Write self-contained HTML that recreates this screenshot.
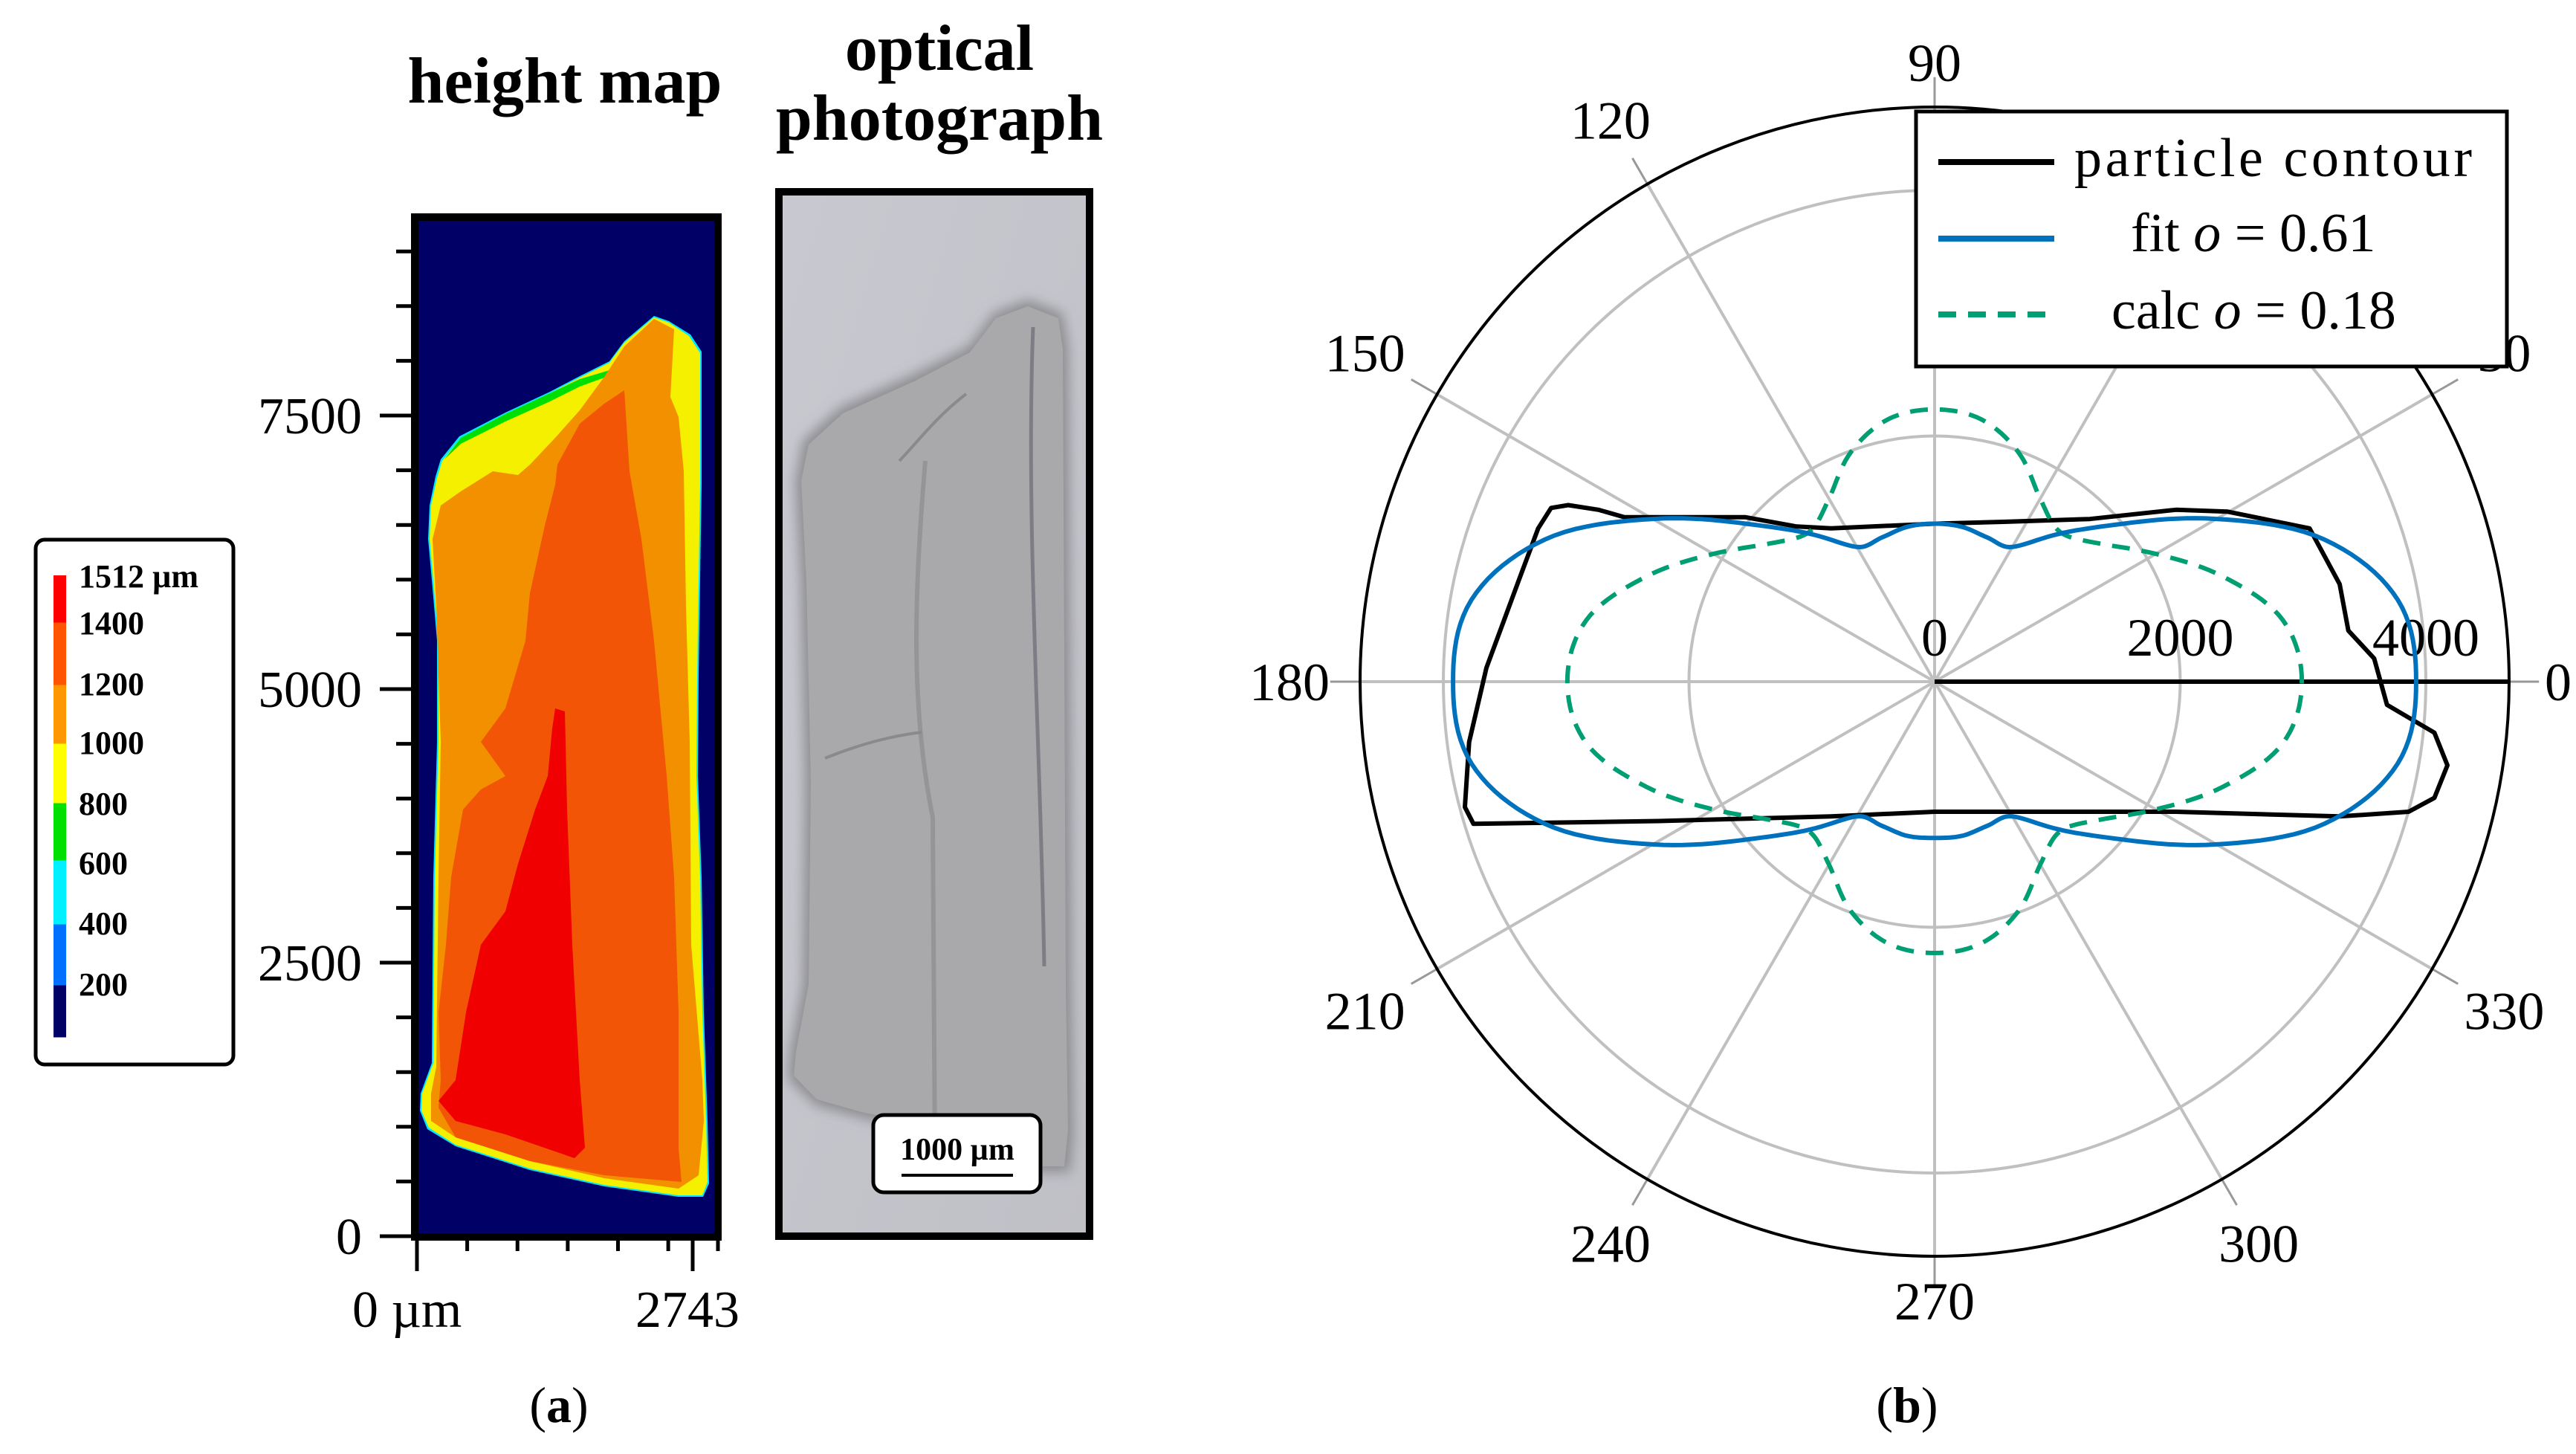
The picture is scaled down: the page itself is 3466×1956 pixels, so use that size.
<!DOCTYPE html>
<html><head><meta charset="utf-8">
<style>
html,body{margin:0;padding:0;background:#fff;}
svg{display:block;}
text{font-family:"Liberation Serif",serif;}
</style></head>
<body>
<svg id="fig" width="3466" height="1956" viewBox="0 0 3466 1956" xmlns="http://www.w3.org/2000/svg">
<rect x="0" y="0" width="3466" height="1956" fill="#fff"/>

<!-- ============ Panel (a) ============ -->
<g>
  <text x="760" y="138" font-size="88" font-weight="bold" text-anchor="middle">height map</text>
  <text x="1264" y="94" font-size="88" font-weight="bold" text-anchor="middle">optical</text>
  <text x="1264" y="188" font-size="88" font-weight="bold" text-anchor="middle">photograph</text>

  <g>
    <rect x="558" y="292" width="408" height="1372" fill="#000066"/>
    <polygon fill="#00e8ff" points="593,618 618,587 680,555 740,527 780,506 820,486 840,459 880,425 900,432 929,450 944,473 944,652 940,907 939,1044 944,1180 947,1362 952,1508 954,1592 946,1610 913,1610 813,1596 713,1574 613,1542 575,1519 565,1494 566,1471 581,1430 583,1180 588,998 588,862 581,780 576,725 578,680 586,641"/>
    <polygon fill="#f5f000" points="595,620 620,589 680,557 740,529 780,508 820,488 840,461 880,427 900,434 927,452 942,475 942,652 938,907 937,1044 942,1180 945,1362 950,1508 952,1590 945,1608 913,1608 813,1594 713,1572 613,1540 577,1517 567,1494 568,1471 583,1430 585,1180 590,998 590,862 583,780 578,725 580,680 588,643"/>
    <polygon fill="#00e000" points="598,618 620,597 680,567 740,540 780,520 813,508 820,498 780,510 740,529 680,557 620,589"/>
    <polygon fill="#f39000" points="593,680 620,661 663,634 697,639 713,625 747,589 780,552 813,507 840,466 880,429 907,443 902,534 913,561 920,634 923,816 928,998 930,1271 945,1453 947,1508 940,1581 913,1599 813,1585 713,1562 613,1530 580,1508 580,1471 587,1435 590,1180 593,998 587,816 582,725"/>
    <polygon fill="#f25505" points="750,625 780,570 813,543 840,525 847,634 863,725 880,862 897,1044 907,1180 913,1362 913,1544 917,1590 813,1581 713,1562 613,1530 590,1490 593,1453 590,1362 600,1271 607,1180 623,1089 647,1062 680,1044 647,998 680,953 707,862 713,798 733,707 747,652"/>
    <polygon fill="#f00000" points="747,953 760,957 763,1089 770,1271 780,1453 787,1544 773,1558 680,1526 613,1508 590,1481 613,1453 627,1362 647,1271 680,1226 697,1162 720,1089 737,1044 743,980"/>
    <rect x="558" y="292" width="408" height="1372" fill="none" stroke="#000" stroke-width="10"/>
  </g>
  <g id="hm-axes"></g>

  <g>
    <rect x="48" y="726" width="266" height="706" rx="12" fill="#fff" stroke="#000" stroke-width="5"/>
    <g id="cbar"></g>
  </g>

  <g>
    <defs>
      <linearGradient id="bg" x1="0" y1="0" x2="1" y2="1">
        <stop offset="0" stop-color="#c8c9d0"/><stop offset="1" stop-color="#bfc0c6"/>
      </linearGradient>
      <filter id="blur"><feGaussianBlur stdDeviation="8"/></filter>
    </defs>
    <rect x="1048" y="258" width="418" height="1405" fill="url(#bg)"/>
    <polygon filter="url(#blur)" fill="#8e8e92" points="1080,593 1130,548 1230,503 1303,466 1337,421 1383,403 1430,421 1438,467 1440,873 1442,1324 1445,1523 1440,1577 1397,1577 1263,1523 1163,1505 1097,1487 1060,1451 1063,1415 1080,1324 1083,1053 1077,782 1070,647"/>
    <polygon fill="#a9a9ab" points="1088,598 1134,556 1232,512 1305,474 1340,428 1383,412 1424,428 1430,470 1432,873 1434,1324 1437,1520 1432,1569 1397,1569 1263,1515 1163,1497 1099,1479 1068,1447 1071,1415 1088,1324 1091,1053 1085,782 1078,647"/>
    <path d="M1245,620 C1230,800 1225,950 1255,1100 L1258,1560" stroke="#959597" stroke-width="6" fill="none"/>
    <path d="M1390,440 C1380,700 1400,1000 1405,1300" stroke="#7d7d85" stroke-width="5" fill="none"/>
    <path d="M1110,1020 C1160,1000 1200,990 1240,985 M1210,620 C1230,600 1260,560 1300,530" stroke="#8a8a8e" stroke-width="4" fill="none"/>
    <rect x="1048" y="258" width="418" height="1405" fill="none" stroke="#000" stroke-width="10"/>
    <g>
      <rect x="1175" y="1500" width="225" height="104" rx="14" fill="#fff" stroke="#000" stroke-width="5"/>
      <text x="1288" y="1560" font-size="42" font-weight="bold" text-anchor="middle">1000 µm</text>
      <line x1="1213" y1="1581" x2="1363" y2="1581" stroke="#000" stroke-width="4"/>
    </g>
  </g>
  <text x="752" y="1913" font-size="68" text-anchor="middle">(<tspan font-weight="bold">a</tspan>)</text>
</g>

<g id="polar"></g>
<text x="2566" y="1913" font-size="68" text-anchor="middle">(<tspan font-weight="bold">b</tspan>)</text>
</svg>

<script>
const NS="http://www.w3.org/2000/svg";
function mk(tag,attrs,parent){const e=document.createElementNS(NS,tag);for(const k in attrs)e.setAttribute(k,attrs[k]);parent.appendChild(e);return e;}

/* ---------- height-map axes ---------- */
const hmYTicks=[0,2500,5000,7500];
const hmYMinorStep=500;
const hmYMax=9300;
const hmXTickLabels=["0 µm","2743"];
const hmXTickVals=[0,2743];
const hmXMinorStep=500;
const hmXMax=2780;
const hmAx=document.getElementById('hm-axes');
const hmY0=1663, hmPxPerUnit=73.6/500, hmX0=561, hmXPx=(932-561)/2743;
function hy(v){return hmY0-v*hmPxPerUnit;}
function hx(v){return hmX0+v*hmXPx;}
for(let v=0;v<=hmYMax;v+=hmYMinorStep){
  const major=hmYTicks.includes(v);
  const t=mk('line',{x1:major?511:533,x2:556,y1:hy(v),y2:hy(v),stroke:'#000','stroke-width':5},hmAx);
  
  
}
hmYTicks.forEach(v=>{
  const t=mk('text',{x:487,y:hy(v)+24,'font-size':70,'text-anchor':'end'},hmAx);
  t.textContent=v;
  
  
});
for(let v=0;v<=hmXMax;v+=hmXMinorStep){
  const t=mk('line',{x1:hx(v),x2:hx(v),y1:1664,y2:1683,stroke:'#000','stroke-width':5},hmAx);
  
  
}
mk('line',{x1:966,x2:966,y1:1664,y2:1683,stroke:'#000','stroke-width':5},hmAx);
hmXTickVals.forEach((v,i)=>{
  const l=mk('line',{x1:hx(v),x2:hx(v),y1:1664,y2:1710,stroke:'#000','stroke-width':5},hmAx);
  
  
  const t=mk('text',{x:i==0?474:855,y:1785,'font-size':70},hmAx);
  t.textContent=hmXTickLabels[i];
  
  
});

/* ---------- colorbar ---------- */
const cbLevels=[0,200,400,600,800,1000,1200,1400,1512];
const cbColors=["#000066","#0070ff","#00f0ff","#00e000","#ffff00","#ff9800","#ff5500","#ff0000"];
const cbLabels=["200","400","600","800","1000","1200","1400","1512 µm"];
const cbBounds=[1395,1325,1243,1157,1080,1000,921,837,774];
const cb=document.getElementById('cbar');
for(let i=0;i<cbColors.length;i++){
  const r=mk('rect',{x:72,y:cbBounds[i+1],width:17,height:cbBounds[i]-cbBounds[i+1]+0.5,fill:cbColors[i]},cb);
  
  
}
const cbBase=[1339,1257,1176,1096,1014,935,853,790];
cbLabels.forEach((s,i)=>{
  const t=mk('text',{x:106,y:cbBase[i],'font-size':44,'font-weight':'bold'},cb);
  t.textContent=s;
  
  
});

/* ---------- polar chart ---------- */
const angleTicks=[0,30,60,90,120,150,180,210,240,270,300,330];
const radialTicks=[0,2000,4000];
const rMax=4678;
const fitAngles=[0,10,20,30,40,50,60,70,80,90,100,110,120,130,140,150,160,170,180,190,200,210,220,230,240,250,260,270,280,290,300,310,320,330,340,350];
const fitR=[3921,3830,3380,2650,2000,1570,1266,1250,1280,1286,1280,1250,1266,1570,2000,2650,3380,3830,3921,3830,3380,2650,2000,1570,1266,1250,1275,1272,1275,1250,1266,1570,2000,2650,3380,3830];
const calcR=[2990,2880,2500,2080,1750,1590,1720,1990,2170,2216,2170,1990,1720,1590,1750,2080,2500,2880,2990,2880,2500,2080,1750,1590,1720,1990,2165,2209,2165,1990,1720,1590,1750,2080,2500,2880];
const contourX=[-3123,-2983,-2737,-2526,-1544,-1123,-842,0,561,1263,1965,2386,3053,3298,3369,3579,3684,4070,4176,4070,3860,3298,1965,561,0,-842,-2246,-3755,-3825,-3790,-3649,-3509,-3369,-3228];
const contourY=[1414,1437,1399,1339,1339,1263,1248,1286,1301,1324,1399,1384,1248,794,416,189,-189,-416,-681,-946,-1059,-1097,-1059,-1059,-1059,-1097,-1135,-1157,-1021,-492,113,492,870,1248];

const P=document.getElementById('polar');
const cx=2603, cy=917, R=773, k=R/rMax;
function px(r,deg){return cx+r*k*Math.cos(deg*Math.PI/180);}
function py(r,deg){return cy-r*k*Math.sin(deg*Math.PI/180);}
function sx(x){return cx+x*k;}
function sy(y){return cy-y*k;}

radialTicks.forEach(r=>{ if(r>0){
  const c=mk('circle',{cx:cx,cy:cy,r:r*k,fill:'none',stroke:'#c0c0c0','stroke-width':4},P);
  
  
}});
angleTicks.forEach(a=>{
  const l=mk('line',{x1:cx,y1:cy,x2:px(rMax,a),y2:py(rMax,a),stroke:'#c0c0c0','stroke-width':4},P);
  
  
  const t=mk('line',{x1:px(rMax,a),y1:py(rMax,a),x2:px(rMax*1.052,a),y2:py(rMax*1.052,a),stroke:'#999','stroke-width':3},P);
  
  
});
const oc=mk('circle',{cx:cx,cy:cy,r:R,fill:'none',stroke:'#000','stroke-width':4},P);


const za=mk('line',{x1:cx,y1:cy,x2:px(rMax,0),y2:cy,stroke:'#000','stroke-width':6},P);



angleTicks.forEach(a=>{
  if(a===60) return; // hidden behind legend in the reference
  const rad=a*Math.PI/180;
  let off=60+35*Math.abs(Math.cos(rad))+25*Math.abs(Math.sin(2*rad));
  if(a===0) off=66;
  const lx=cx+(R+off)*Math.cos(rad), ly=cy-(R+off)*Math.sin(rad);
  const t=mk('text',{x:lx,y:ly+25,'font-size':72,'text-anchor':'middle'},P);
  t.textContent=a;
  
  
});
radialTicks.forEach(r=>{
  const t=mk('text',{x:px(r,0),y:882,'font-size':72,'text-anchor':'middle'},P);
  t.textContent=r;
  
  
});

function smoothPath(angles,vals){
  const n=vals.length; let d='';
  for(let i=0;i<n;i++){
    const p0=vals[(i-1+n)%n],p1=vals[i],p2=vals[(i+1)%n],p3=vals[(i+2)%n];
    const a1=angles[i], a2=(i+1<n?angles[i+1]:angles[0]+360);
    for(let s=0;s<10;s++){
      const t=s/10;
      const r=0.5*((2*p1)+(-p0+p2)*t+(2*p0-5*p1+4*p2-p3)*t*t+(-p0+3*p1-3*p2+p3)*t*t*t);
      const a=a1+(a2-a1)*t;
      d+=(d?'L':'M')+px(r,a).toFixed(1)+','+py(r,a).toFixed(1);
    }
  }
  return d+'Z';
}

let cd='';
contourX.forEach((x,i)=>{cd+=(i?'L':'M')+sx(x).toFixed(1)+','+sy(contourY[i]).toFixed(1);});
cd+='Z';
const cp=mk('path',{d:cd,fill:'none',stroke:'#000','stroke-width':6,'stroke-linejoin':'round'},P);



const gp=mk('path',{d:smoothPath(fitAngles,calcR),fill:'none',stroke:'#009e73','stroke-width':6,'stroke-dasharray':'24 16'},P);



const bp=mk('path',{d:smoothPath(fitAngles,fitR),fill:'none',stroke:'#0072bd','stroke-width':6},P);



const L=mk('g',{},P);


mk('rect',{x:2578,y:150,width:795,height:343,fill:'#fff',stroke:'#000','stroke-width':5},L);
const legItems=[
  {label:'particle contour',color:'#000',dash:null,y:218,tx:2791,base:237,len:535},
  {label:'fit',color:'#0072bd',dash:null,y:321,tx:2867,base:338,val:'0.61'},
  {label:'calc',color:'#009e73',dash:'24 16',y:423,tx:2841,base:442,val:'0.18'}
];
legItems.forEach(it=>{
  const ln=mk('line',{x1:2608,x2:2764,y1:it.y,y2:it.y,stroke:it.color,'stroke-width':8},L);
  if(it.dash)ln.setAttribute('stroke-dasharray',it.dash);
  
  
  const t=mk('text',{x:it.tx,y:it.base,'font-size':74},L);
  if(it.val){
    t.innerHTML=it.label+' <tspan font-style="italic">o</tspan> = '+it.val;
  } else {
    t.textContent=it.label;
    t.setAttribute('textLength',it.len);
  }
  
  
});
</script>
</body></html>
